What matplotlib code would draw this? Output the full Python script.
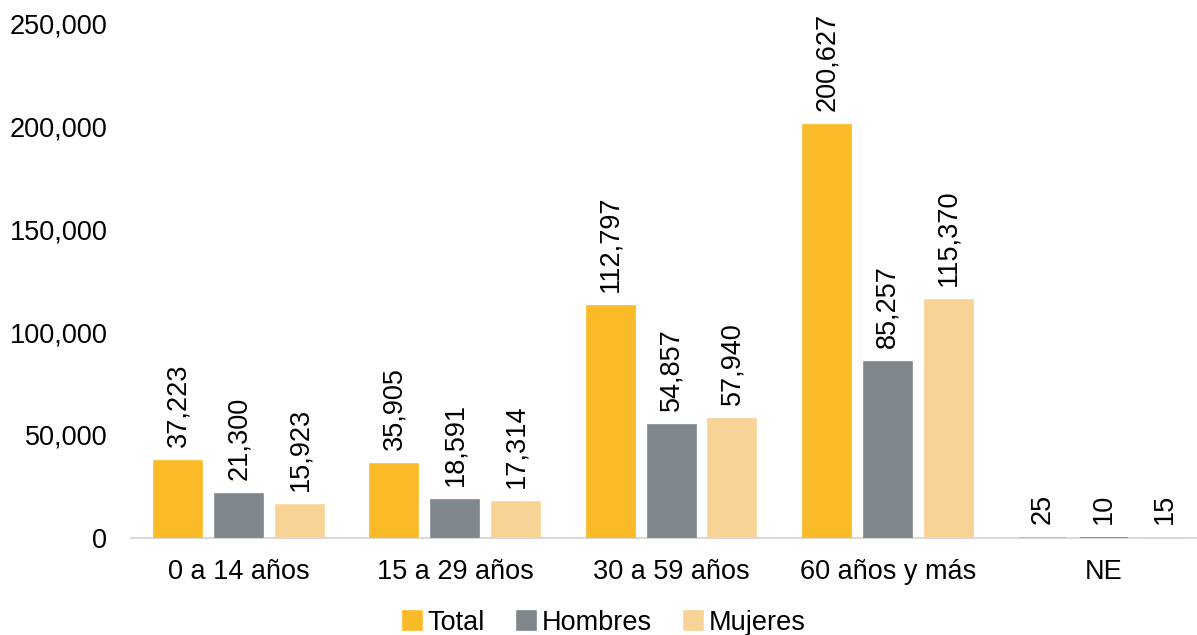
import matplotlib
matplotlib.use('Agg')
import matplotlib.pyplot as plt
import numpy as np

plt.rcParams['font.family'] = ['Liberation Sans', 'DejaVu Sans']

categorias = ['0 a 14 años', '15 a 29 años', '30 a 59 años', '60 años y más', 'NE']
total = [37223, 35905, 112797, 200627, 25]
hombres = [21300, 18591, 54857, 85257, 10]
mujeres = [15923, 17314, 57940, 115370, 15]

series = [('Total', total, '#FBBA27'),
          ('Hombres', hombres, '#7F878C'),
          ('Mujeres', mujeres, '#F9D395')]

fig = plt.figure(figsize=(11.97, 6.35), dpi=100)
ax = fig.add_axes([131 / 1197, 97 / 635, 1 - 131 / 1197, 515 / 635])

x = np.arange(len(categorias))
ancho = 0.222
paso = 0.282
fs = 19.5

for i, (nombre, vals, color) in enumerate(series):
	pos = x + (i - 1) * paso
	ax.bar(pos, vals, ancho, color=color, edgecolor=color, linewidth=1.2, label=nombre, zorder=2)
	for p, v in zip(pos, vals):
		ax.annotate(f'{v:,}', (p, v), xytext=(0, 10), textcoords='offset points',
			rotation=90, ha='center', va='bottom', fontsize=fs)

ax.set_ylim(0, 250000)
ax.set_xlim(-0.5, 4.5 - 15 / 216)
ax.set_yticks(np.arange(0, 250001, 50000))
ax.set_yticklabels([f'{int(t):,}' for t in ax.get_yticks()], fontsize=fs)
ax.set_xticks(x)
ax.set_xticklabels(categorias, fontsize=fs)
ax.tick_params(axis='both', length=0)
ax.tick_params(axis='y', pad=17)
ax.tick_params(axis='x', pad=15)
for s in ['top', 'right', 'left']:
	ax.spines[s].set_visible(False)
ax.spines['bottom'].set_color('#D9D9D9')
ax.spines['bottom'].set_linewidth(1.5)
ax.spines['bottom'].set_zorder(1)

fig.legend(loc='lower center', bbox_to_anchor=(0.505, -0.04), ncol=3, frameon=False,
	fontsize=fs, handlelength=0.7, handleheight=0.7, handletextpad=0.2, columnspacing=1.2)

fig.savefig('out.png', dpi=100)
